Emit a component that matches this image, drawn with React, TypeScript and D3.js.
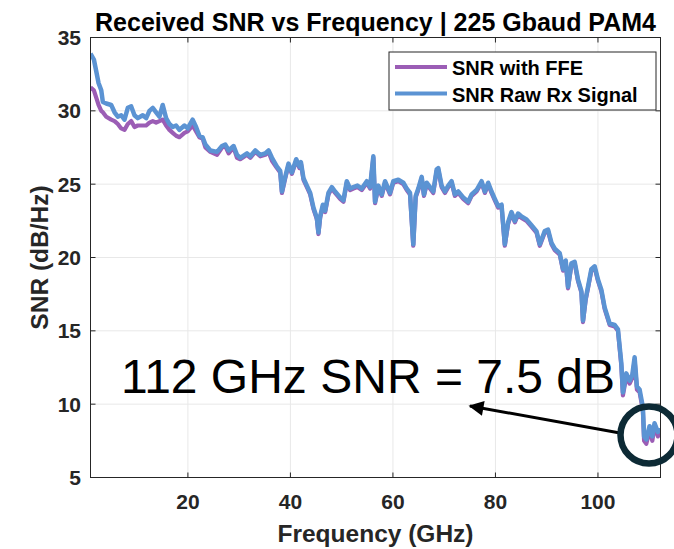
import React from "react";
import * as d3 from "d3";

const TITLE = "Received SNR vs Frequency | 225 Gbaud PAM4";
const X_LABEL = "Frequency (GHz)";
const Y_LABEL = "SNR (dB/Hz)";
const X_TICKS = [20, 40, 60, 80, 100];
const Y_TICKS = [5, 10, 15, 20, 25, 30, 35];
const SERIES_NAMES = ["SNR with FFE", "SNR Raw Rx Signal"];
const ANNOTATION = "112 GHz SNR = 7.5 dB";

const FREQ = [
  1.0, 1.66, 2.12, 2.57, 3.1, 3.41, 4.07, 5.04, 5.69, 6.33, 6.99, 7.63, 8.28, 8.94, 9.58, 10.22,
  11.2, 11.86, 12.5, 13.15, 13.8, 14.45, 15.09, 15.75, 16.4, 17.04, 17.7, 18.35, 19.32, 19.96,
  20.93, 21.6, 22.24, 22.88, 23.41, 24.38, 25.69, 26.66, 27.3, 27.95, 28.92, 29.58, 30.22, 31.53,
  32.17, 33.15, 34.12, 35.09, 35.74, 36.4, 37.37, 38.01, 38.35, 38.99, 39.63, 40.29, 41.13, 41.77,
  42.05, 42.55, 43.21, 43.86, 44.5, 45.16, 45.47, 45.8, 46.33, 46.78, 47.42, 48.08, 48.72, 49.7,
  50.34, 51.0, 51.65, 52.29, 53.07, 53.92, 54.9, 55.54, 56.18, 56.51, 57.16, 57.82, 58.46, 59.43,
  60.08, 61.05, 62.03, 62.69, 63.33, 63.97, 64.44, 64.95, 65.61, 66.06, 66.58, 67.23, 67.87, 68.53,
  68.84, 69.5, 70.15, 70.79, 71.45, 72.09, 72.74, 73.71, 74.68, 75.35, 76.32, 77.29, 77.94, 78.58,
  79.24, 79.88, 80.53, 81.19, 81.83, 82.47, 83.13, 83.78, 84.42, 85.08, 86.06, 87.03, 88.0, 88.65,
  89.62, 90.26, 90.93, 91.57, 92.54, 93.19, 93.71, 94.16, 94.82, 95.46, 96.1, 96.77, 97.08, 97.6,
  98.05, 98.71, 99.36, 100.0, 100.66, 101.3, 102.28, 103.25, 103.9, 104.56, 104.87, 105.53, 106.17,
  106.7, 107.15, 107.6, 108.12, 108.76, 109.0, 109.43, 110.07, 110.6, 111.04, 111.69, 112.02,
];

const SNR_RAW = [
  33.9, 33.5, 32.7, 31.9, 31.4, 30.6, 30.5, 30.4, 29.9, 29.6, 29.7, 29.4, 30.2, 30.3, 29.7, 29.5,
  29.7, 29.5, 30.0, 30.2, 29.9, 29.6, 30.4, 29.5, 29.1, 28.9, 29.0, 28.7, 29.0, 28.8,
  29.4, 28.9, 28.3, 28.2, 27.7, 27.3, 27.2, 27.6, 27.7, 27.3, 27.6, 27.0, 26.8, 27.1,
  26.9, 27.3, 27.0, 27.1, 27.3, 26.8, 26.2, 25.9, 24.5, 25.5, 26.4, 25.8, 26.7, 26.2,
  26.5, 25.4, 24.9, 24.4, 23.4, 22.7, 21.7, 22.8, 23.6, 23.2, 24.4, 24.8, 24.5, 24.1,
  23.9, 25.2, 24.7, 24.8, 24.9, 24.7, 25.2, 24.8, 26.9, 23.8, 24.9, 24.3, 25.2, 24.4,
  25.2, 25.3, 25.1, 24.7, 24.4, 20.9, 24.2, 24.7, 25.5, 24.3, 25.1, 24.8, 24.5, 26.0,
  26.1, 24.9, 24.5, 24.9, 25.2, 24.3, 24.5, 24.1, 23.8, 24.3, 24.6, 25.2, 24.5, 25.1,
  24.5, 24.0, 23.5, 23.6, 20.9, 22.4, 23.1, 22.5, 23.0, 22.8, 22.6, 22.2, 21.8, 20.9,
  21.8, 21.9, 21.0, 20.6, 20.3, 19.2, 19.8, 18.0, 19.6, 19.7, 18.5, 17.7, 15.7, 17.2,
  18.0, 19.2, 19.4, 18.5, 17.8, 16.6, 15.5, 15.4, 15.1, 12.8, 10.8, 12.1, 11.6,
  12.0, 13.2, 11.2, 11.0, 9.8, 7.8, 7.6, 8.5, 7.8, 8.7, 8.1, 8.4,
];

const SNR_FFE = [
  31.6, 31.4, 30.9, 30.4, 30.0, 29.9, 29.6, 29.4, 29.3, 29.1, 28.8, 28.7, 29.1, 29.3, 28.9, 29.0,
  29.0, 29.0, 29.2, 29.3, 29.2, 29.3, 29.4, 29.0, 28.7, 28.5, 28.3, 28.2, 28.5, 28.6,
  29.0, 28.6, 28.2, 28.1, 27.5, 27.2, 27.0, 27.5, 27.6, 27.1, 27.5, 26.8, 26.7, 27.0,
  26.8, 27.2, 26.9, 27.0, 27.2, 26.6, 26.1, 25.8, 24.4, 25.4, 26.3, 25.7, 26.6, 26.1,
  26.4, 25.3, 24.8, 24.3, 23.3, 22.6, 21.6, 22.7, 23.5, 23.1, 24.3, 24.7, 24.4, 24.0,
  23.8, 25.1, 24.6, 24.7, 24.8, 24.6, 25.1, 24.7, 26.8, 23.7, 24.8, 24.2, 25.1, 24.3,
  25.1, 25.2, 25.0, 24.6, 24.3, 20.8, 24.1, 24.6, 25.4, 24.2, 25.0, 24.7, 24.4, 25.9,
  26.0, 24.8, 24.4, 24.8, 25.1, 24.2, 24.4, 24.0, 23.7, 24.2, 24.5, 25.1, 24.4, 25.0,
  24.4, 23.9, 23.4, 23.5, 20.8, 22.3, 23.0, 22.4, 22.9, 22.7, 22.5, 22.1, 21.7, 20.8,
  21.7, 21.8, 20.9, 20.5, 20.2, 19.1, 19.7, 17.9, 19.5, 19.6, 18.4, 17.6, 15.6, 17.1,
  17.9, 19.1, 19.3, 18.4, 17.7, 16.5, 15.4, 15.3, 15.0, 12.6, 10.6, 11.9, 11.4,
  11.8, 13.0, 11.0, 10.8, 9.6, 7.5, 7.3, 8.2, 7.5, 8.5, 7.8, 8.2,
];

const COLORS = ["#9b5db5", "#5b93d3"];
const FONT = "'Liberation Sans', Arial, Helvetica, sans-serif";

export default function App() {
  const W = 674;
  const H = 549;
  const left = 90.5, right = 660.5, top = 37.5, bottom = 477.5;
  const x = d3.scaleLinear().domain([1, 112.2]).range([left, right]);
  const y = d3.scaleLinear().domain([5, 35]).range([bottom, top]);

  const line = d3
    .line<number>()
    .x((_, i) => x(FREQ[i]))
    .y((d) => y(d));

  const axisColor = "#262626";
  const gridColor = "#e8e8e8";
  const tickLen = 5;

  const arrowTail = [620, 433];
  const arrowTip = [470, 406];

  return (
    <svg
      width={W}
      height={H}
      style={{ position: "absolute", left: 0, top: 0, background: "#fff" }}
      fontFamily={FONT}
    >
      <defs>
        <clipPath id="plotclip">
          <rect x={left} y={top} width={right - left} height={bottom - top} />
        </clipPath>
        <marker
          id="arrowhead"
          viewBox="0 0 10 10"
          refX="9"
          refY="5"
          markerWidth="6"
          markerHeight="5"
          markerUnits="strokeWidth"
          orient="auto"
        >
          <path d="M0,0 L10,5 L0,10 z" fill="#000" />
        </marker>
      </defs>
      <rect x={0} y={0} width={W} height={H} fill="#fff" />

      {/* grid */}
      {X_TICKS.map((t) => (
        <line key={"gx" + t} x1={x(t)} x2={x(t)} y1={top} y2={bottom} stroke={gridColor} strokeWidth={1} />
      ))}
      {Y_TICKS.filter((t) => t > 5 && t < 35).map((t) => (
        <line key={"gy" + t} x1={left} x2={right} y1={y(t)} y2={y(t)} stroke={gridColor} strokeWidth={1} />
      ))}

      {/* lines */}
      <g clipPath="url(#plotclip)">
        <path d={line(SNR_FFE) || ""} fill="none" stroke={COLORS[0]} strokeWidth={4.2} strokeLinejoin="round" />
        <path d={line(SNR_RAW) || ""} fill="none" stroke={COLORS[1]} strokeWidth={4.5} strokeLinejoin="round" />
      </g>

      {/* box & ticks */}
      <rect x={left} y={top} width={right - left} height={bottom - top} fill="none" stroke={axisColor} strokeWidth={1} />
      {X_TICKS.map((t) => (
        <g key={"tx" + t}>
          <line x1={x(t)} x2={x(t)} y1={bottom} y2={bottom - tickLen} stroke={axisColor} />
          <line x1={x(t)} x2={x(t)} y1={top} y2={top + tickLen} stroke={axisColor} />
          <text x={x(t)} y={509} textAnchor="middle" fontSize={21} fontWeight="bold" fill={axisColor}>
            {t}
          </text>
        </g>
      ))}
      {Y_TICKS.map((t) => (
        <g key={"ty" + t}>
          <line x1={left} x2={left + tickLen} y1={y(t)} y2={y(t)} stroke={axisColor} />
          <line x1={right} x2={right - tickLen} y1={y(t)} y2={y(t)} stroke={axisColor} />
          <text x={81} y={y(t) + 7.5} textAnchor="end" fontSize={21} fontWeight="bold" fill={axisColor}>
            {t}
          </text>
        </g>
      ))}

      {/* axis titles */}
      <text x={(left + right) / 2} y={542} textAnchor="middle" fontSize={24.5} fontWeight="bold" fill={axisColor}>
        {X_LABEL}
      </text>
      <text
        transform={`translate(48, ${(top + bottom) / 2}) rotate(-90)`}
        textAnchor="middle"
        fontSize={24.5}
        fontWeight="bold"
        fill={axisColor}
      >
        {Y_LABEL}
      </text>
      <text x={(left + right) / 2} y={31} textAnchor="middle" fontSize={25} fontWeight="bold" fill="#000">
        {TITLE}
      </text>

      {/* legend */}
      <rect x={389} y={52} width={267} height={58} fill="#fff" stroke={axisColor} strokeWidth={1} />
      {SERIES_NAMES.map((name, i) => (
        <g key={name}>
          <line x1={395} x2={447} y1={67 + i * 26.5} y2={67 + i * 26.5} stroke={COLORS[i]} strokeWidth={4} />
          <text x={452} y={75 + i * 26.5} fontSize={20} fontWeight="bold" fill="#000">
            {name}
          </text>
        </g>
      ))}

      {/* annotation */}
      <text x={121} y={393} fontSize={48} fill="#000">
        {ANNOTATION}
      </text>
      <line
        x1={arrowTail[0]}
        y1={arrowTail[1]}
        x2={arrowTip[0]}
        y2={arrowTip[1]}
        stroke="#000"
        strokeWidth={3}
        markerEnd="url(#arrowhead)"
      />
      <circle cx={649} cy={435} r={28.5} fill="none" stroke="#0d2a35" strokeWidth={6.5} />
    </svg>
  );
}
